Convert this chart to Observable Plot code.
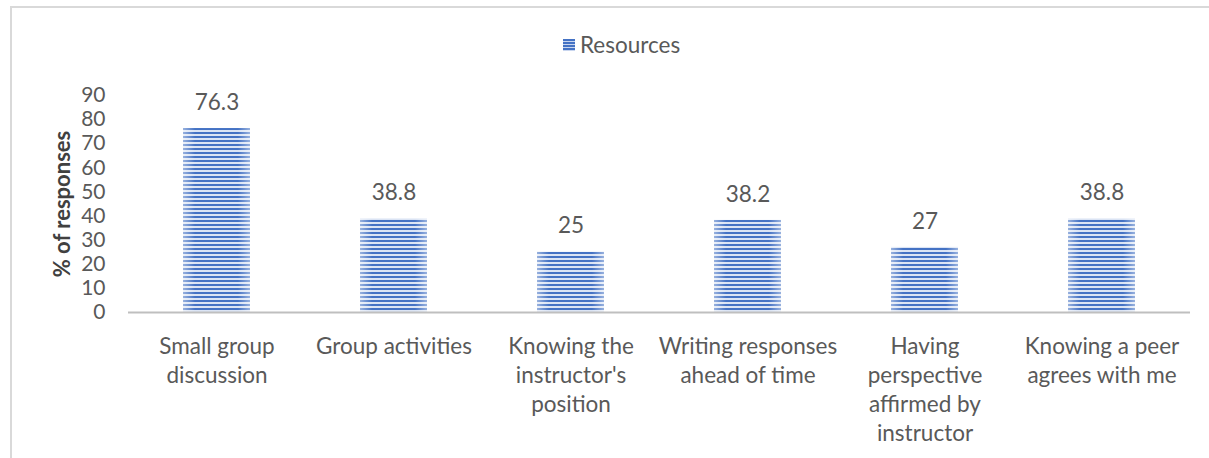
<!DOCTYPE html>
<html>
<head>
<meta charset="utf-8">
<script src="https://cdn.jsdelivr.net/npm/d3@7"></script>
<script src="https://cdn.jsdelivr.net/npm/@observablehq/plot@0.6"></script>
<style>
  html, body { margin: 0; padding: 0; background: #fff; }
  #wrap { position: relative; width: 1209px; height: 458px; overflow: hidden; font-family: Lato, "Open Sans", sans-serif; }
  #frame { position: absolute; left: 10px; top: 6px; width: 1300px; height: 600px; border-left: 2px solid #d9d9d9; border-top: 2px solid #d9d9d9; }
  #legend { position: absolute; left: 563px; top: 31px; display: flex; align-items: center; color: #595959; font-size: 22.5px; }
  #legend .sw { width: 12px; height: 12px; margin-right: 5px; background: repeating-linear-gradient(to bottom, #4472c4 0 2px, #c9d6ef 2px 3px); }
  #chart { position: absolute; left: 0; top: 0; }
</style>
</head>
<body>
<div id="wrap">
  <div id="frame"></div>
  <div id="chart"></div>
  <div id="legend"><span class="sw"></span><span>Resources</span></div>
</div>
<script>
const categories = [
  "Small group discussion",
  "Group activities",
  "Knowing the instructor's position",
  "Writing responses ahead of time",
  "Having perspective affirmed by instructor",
  "Knowing a peer agrees with me"
];
const tickLabels = [
  "Small group\ndiscussion",
  "Group activities",
  "Knowing the\ninstructor's\nposition",
  "Writing responses\nahead of time",
  "Having\nperspective\naffirmed by\ninstructor",
  "Knowing a peer\nagrees with me"
];
const values = [76.3, 38.8, 25, 38.2, 27, 38.8];
const valueLabels = ["76.3", "38.8", "25", "38.2", "27", "38.8"];
const yTicks = [0, 10, 20, 30, 40, 50, 60, 70, 80, 90];
const yLabel = "% of responses";
const seriesName = "Resources";

const data = categories.map((c, i) => ({cat: c, value: values[i], label: valueLabels[i]}));
const labelOf = new Map(categories.map((c, i) => [c, tickLabels[i]]));

const plot = Plot.plot({
  width: 1209,
  height: 458,
  marginLeft: 128,
  marginRight: 19,
  marginTop: 95,
  marginBottom: 146,
  style: {fontFamily: "Lato, 'Open Sans', sans-serif", fontSize: "21px", color: "#595959", background: "transparent"},
  x: {domain: categories, paddingInner: 0.62, paddingOuter: 0.31, label: null},
  y: {domain: [0, 90], label: null},
  marks: [
    Plot.barY(data, {x: "cat", y: "value", fill: "url(#stripes)"}),
    Plot.barY(data, {x: "cat", y: "value", fill: "url(#edgeglow)"}),
    Plot.ruleY([0], {stroke: "#bfbfbf", strokeWidth: 2}),
    Plot.text(data, {x: "cat", y: "value", text: "label", dy: -26, fill: "#595959", fontSize: 22.5}),
    Plot.axisY({ticks: yTicks, tickSize: 0, tickPadding: 23, fill: "#595959", fontSize: 21, label: null}),
    Plot.axisX({tickSize: 0, tickPadding: 21, tickFormat: d => labelOf.get(d), lineHeight: 1.29, fill: "#595959", fontSize: 22.5, label: null}),
    Plot.text([yLabel], {frameAnchor: "left", dx: -66, rotate: -90, textAnchor: "middle", text: d => d, fontWeight: "bold", fill: "#404040", fontSize: 22})
  ]
});

const ns = "http://www.w3.org/2000/svg";
const defs = document.createElementNS(ns, "defs");
defs.innerHTML = `
  <pattern id="stripes" patternUnits="userSpaceOnUse" width="8" height="4">
    <rect x="0" y="0" width="8" height="4" fill="#dbe4f4"/>
    <rect x="0" y="0" width="8" height="2" fill="#4472c4"/>
  </pattern>
  <linearGradient id="edgeglow" x1="0" x2="1" y1="0" y2="0">
    <stop offset="0" stop-color="#ffffff" stop-opacity="0.45"/>
    <stop offset="0.18" stop-color="#ffffff" stop-opacity="0"/>
    <stop offset="0.82" stop-color="#ffffff" stop-opacity="0"/>
    <stop offset="1" stop-color="#ffffff" stop-opacity="0.45"/>
  </linearGradient>`;
plot.insertBefore(defs, plot.firstChild);
document.getElementById("chart").appendChild(plot);
</script>
</body>
</html>
